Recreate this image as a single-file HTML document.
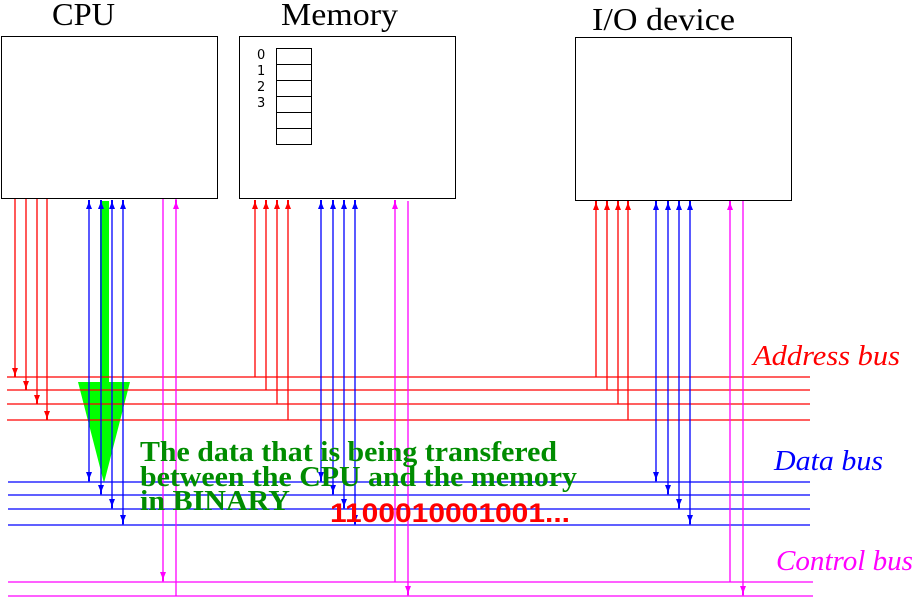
<!DOCTYPE html>
<html><head><meta charset="utf-8"><style>
html,body{margin:0;padding:0;background:#fff;}
svg{display:block;}
</style></head><body>
<svg width="913" height="597" viewBox="0 0 913 597" xmlns="http://www.w3.org/2000/svg">
<defs>
<polygon id="dn" points="-3,-9 3,-9 1,-4 1,0 -1,0 -1,-4"/>
<polygon id="up" points="-3,9 3,9 1,4 1,0 -1,0 -1,4"/>
</defs>
<g fill="none" stroke="#000" stroke-width="1">
<rect x="1.5" y="36.5" width="216" height="162"/>
<rect x="239.5" y="36.5" width="216" height="162"/>
<rect x="575.5" y="37.5" width="216" height="163"/>
<rect x="276.5" y="48.5" width="35" height="96"/>
<path d="M276 64.5H312M276 80.5H312M276 96.5H312M276 112.5H312M276 128.5H312"/>
</g>
<g font-family="'Liberation Serif',serif" fill="#000">
<text x="52" y="25" font-size="32" textLength="63" lengthAdjust="spacingAndGlyphs">CPU</text>
<text x="281" y="25" font-size="32" textLength="117" lengthAdjust="spacingAndGlyphs">Memory</text>
<text x="592" y="30" font-size="32" textLength="143" lengthAdjust="spacingAndGlyphs">I/O device</text>
</g>
<g font-family="'DejaVu Sans','Liberation Sans',sans-serif" font-size="13" fill="#000">
<text x="257" y="59">0</text><text x="257" y="75">1</text><text x="257" y="91">2</text><text x="257" y="107">3</text>
</g>
<!-- green arrow -->
<polygon fill="#00ff00" points="100,201 109,201 109,382 130,382 104,483 78,382 100,382"/>
<!-- address bus -->
<g stroke="#ff0000" stroke-width="1.3" fill="none">
<path d="M7 377H810M7 390H810M7 404H810M7 420H810"/>
<path d="M15 199V377M26 199V390M37 199V404M47 199V420"/>
<path d="M255 201V377M266 201V390M277 201V404M288 201V420"/>
<path d="M596 201V377M607 201V390M618 201V404M628 201V420"/>
</g>
<g fill="#ff0000">
<use href="#dn" x="15" y="377"/><use href="#dn" x="26" y="390"/><use href="#dn" x="37" y="404"/><use href="#dn" x="47" y="420"/>
<use href="#up" x="255" y="200"/><use href="#up" x="266" y="200"/><use href="#up" x="277" y="200"/><use href="#up" x="288" y="200"/>
<use href="#up" x="596" y="201"/><use href="#up" x="607" y="201"/><use href="#up" x="618" y="201"/><use href="#up" x="628" y="201"/>
</g>
<!-- data bus -->
<g stroke="#0000ff" stroke-width="1.3" fill="none">
<path d="M8 482H810M8 495H810M8 509H810M8 525H810"/>
<path d="M89 201V482M101 201V495M112 201V509M123 201V525"/>
<path d="M321 201V482M333 201V495M344 201V509M355 201V525"/>
<path d="M656 201V482M668 201V495M679 201V509M690 201V525"/>
</g>
<g fill="#0000ff">
<use href="#up" x="89" y="200"/><use href="#up" x="101" y="200"/><use href="#up" x="112" y="200"/><use href="#up" x="123" y="200"/>
<use href="#up" x="321" y="200"/><use href="#up" x="333" y="200"/><use href="#up" x="344" y="200"/><use href="#up" x="355" y="200"/>
<use href="#up" x="656" y="201"/><use href="#up" x="668" y="201"/><use href="#up" x="679" y="201"/><use href="#up" x="690" y="201"/>
<use href="#dn" x="89" y="481"/><use href="#dn" x="101" y="494"/><use href="#dn" x="112" y="508"/><use href="#dn" x="123" y="524"/>
<use href="#dn" x="321" y="481"/><use href="#dn" x="333" y="494"/><use href="#dn" x="344" y="508"/><use href="#dn" x="355" y="524"/>
<use href="#dn" x="656" y="481"/><use href="#dn" x="668" y="494"/><use href="#dn" x="679" y="508"/><use href="#dn" x="690" y="524"/>
</g>
<!-- control bus -->
<g stroke="#ff00ff" stroke-width="1.3" fill="none">
<path d="M8 582H813M8 596H813"/>
<path d="M163 199V582M176 199V596M395 201V582M408 201V596M730 201V582M743 201V596"/>
</g>
<g fill="#ff00ff">
<use href="#dn" x="163" y="581"/><use href="#up" x="176" y="200"/>
<use href="#up" x="395" y="200"/><use href="#dn" x="408" y="595"/>
<use href="#up" x="730" y="201"/><use href="#dn" x="743" y="595"/>
</g>
<!-- texts -->
<g font-family="'Liberation Serif',serif" font-weight="bold" font-size="28" fill="#008c00">
<text x="140" y="461" textLength="417" lengthAdjust="spacingAndGlyphs">The data that is being transfered</text>
<text x="140" y="486" textLength="437" lengthAdjust="spacingAndGlyphs">between the CPU and the memory</text>
<text x="140" y="510" textLength="150" lengthAdjust="spacingAndGlyphs">in BINARY</text>
</g>
<text x="330" y="522" font-family="'Liberation Sans',sans-serif" font-weight="bold" font-size="27" fill="#ff0000" textLength="240" lengthAdjust="spacingAndGlyphs">1100010001001...</text>
<g font-family="'Liberation Serif',serif" font-style="italic" font-size="28">
<text x="753" y="365" fill="#ff0000" textLength="147" lengthAdjust="spacingAndGlyphs">Address bus</text>
<text x="774" y="470" fill="#0000ff" textLength="109" lengthAdjust="spacingAndGlyphs">Data bus</text>
<text x="776" y="570" fill="#ff00ff" textLength="137" lengthAdjust="spacingAndGlyphs">Control bus</text>
</g>
</svg>
</body></html>
